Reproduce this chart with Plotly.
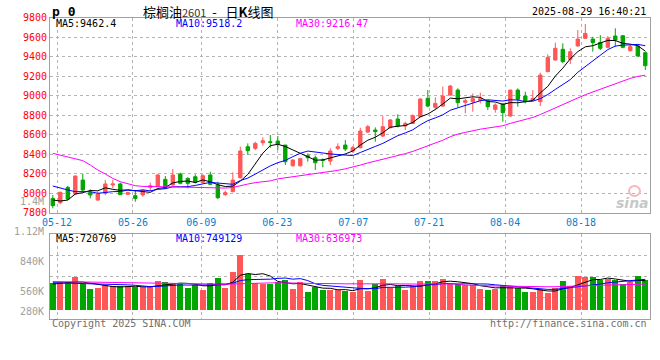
import plotly.graph_objects as go
import pandas as pd

W, H = 660, 360

# ---------------- data ----------------
dates = [d.strftime("%m-%d") for d in pd.bdate_range("2025-05-09", "2025-08-29")
         if d.strftime("%Y-%m-%d") != "2025-06-02"]   # Dragon Boat holiday

opens = [7948, 7904, 8061, 7993, 8136, 8007, 7931, 8000, 8085, 8096,
         7990, 7976, 7983, 8061, 8068, 8143, 8085, 8198, 8153, 8170,
         8112, 8188, 8085, 7986, 8017, 8160, 8478, 8461, 8519, 8529,
         8536, 8495, 8283, 8283, 8386, 8365, 8341, 8331, 8461, 8495,
         8434, 8468, 8628, 8649, 8587, 8673, 8762, 8690, 8717, 8786,
         8974, 8882, 8895, 9008, 9059, 8933, 8940, 8953, 8950, 8861,
         8916, 8793, 9059, 8998, 8957, 8940, 9248, 9367, 9477, 9374,
         9511, 9589, 9582, 9548, 9497, 9613, 9616, 9463, 9511, 9442]
highs = [7982, 8017, 8075, 8184, 8198, 8041, 8017, 8136, 8136, 8109,
         8017, 8034, 8041, 8109, 8198, 8177, 8249, 8211, 8164, 8195,
         8195, 8222, 8119, 8027, 8215, 8478, 8512, 8529, 8574, 8598,
         8588, 8495, 8350, 8365, 8410, 8386, 8358, 8461, 8512, 8546,
         8485, 8673, 8700, 8676, 8793, 8762, 8810, 8735, 8810, 8975,
         9059, 8984, 9094, 9111, 9077, 8967, 9025, 9032, 8957, 8923,
         8923, 9059, 9077, 9042, 9059, 9237, 9425, 9545, 9538, 9487,
         9675, 9736, 9606, 9623, 9613, 9692, 9623, 9528, 9528, 9453]
lows = [7846, 7887, 7931, 7982, 8017, 7948, 7924, 7982, 8051, 7982,
        7982, 7914, 7965, 8027, 8068, 8044, 8078, 8092, 8051, 8100,
        8100, 8085, 7941, 7975, 8010, 8153, 8393, 8444, 8488, 8468,
        8444, 8290, 8273, 8273, 8324, 8239, 8266, 8290, 8444, 8434,
        8417, 8461, 8620, 8529, 8581, 8666, 8676, 8649, 8710, 8780,
        8882, 8854, 8888, 9000, 8882, 8820, 8837, 8923, 8854, 8827,
        8735, 8786, 8888, 8923, 8950, 8895, 9241, 9360, 9333, 9326,
        9504, 9582, 9453, 9470, 9487, 9504, 9487, 9453, 9401, 9265]
closes = [7873, 8010, 7941, 8177, 8034, 7983, 7993, 8096, 8096, 7986,
          8007, 7948, 8030, 8078, 8188, 8051, 8188, 8102, 8102, 8113,
          8181, 8092, 7955, 8007, 8136, 8434, 8437, 8512, 8539, 8522,
          8505, 8324, 8341, 8355, 8365, 8314, 8338, 8434, 8478, 8454,
          8468, 8639, 8683, 8632, 8683, 8752, 8690, 8717, 8796, 8967,
          8895, 8922, 8998, 9100, 8930, 8950, 8970, 8970, 8888, 8906,
          8827, 9059, 8964, 8940, 8974, 9213, 9394, 9487, 9350, 9452,
          9582, 9640, 9545, 9487, 9589, 9572, 9497, 9504, 9408, 9309]
volumes = [657, 673, 673, 793, 633, 521, 545, 617, 577, 593,
           577, 569, 553, 577, 713, 689, 665, 665, 545, 617,
           497, 665, 785, 545, 921, 1337, 873, 665, 641, 641,
           689, 737, 521, 673, 449, 569, 497, 497, 497, 473,
           441, 737, 473, 641, 761, 537, 593, 497, 585, 713,
           713, 713, 761, 641, 641, 601, 601, 521, 497, 521,
           617, 593, 537, 441, 441, 521, 425, 537, 713, 593,
           833, 793, 793, 737, 761, 721, 641, 673, 833, 737]  # thousand lots

# moving-average values before enough in-window history exists
ma5_head = [7931, 7921, 7931, 7993]
ma10_head = [8075, 8051, 8034, 8017, 8017, 8017, 8000, 8010, 8017]
ma30_head = [8410, 8393, 8376, 8358, 8335, 8290, 8239, 8198, 8153, 8119,
             8095, 8078, 8071, 8068, 8068, 8066, 8066, 8064, 8062, 8060,
             8058, 8056, 8054, 8054, 8060, 8080, 8095, 8110, 8122]
vma5_head = [640, 655, 665, 690]
vma10_head = [672, 668, 665, 662, 660, 655, 650, 645, 640]
vma30_head = [700, 697, 694, 690, 686, 682, 678, 674, 670, 666,
              662, 658, 655, 652, 650, 648, 646, 644, 642, 640,
              638, 636, 636, 636, 640, 648, 655, 660, 664]

price_legend = ["MA5:9462.4", "MA10:9518.2", "MA30:9216.47"]
vol_legend = ["MA5:720769", "MA10:749129", "MA30:636973"]
tick_dates = ["05-12", "05-26", "06-09", "06-23", "07-07", "07-21", "08-04", "08-18"]
price_ticks = [7800, 8000, 8200, 8400, 8600, 8800, 9000, 9200, 9400, 9600, 9800]
vol_tick_labels = ["1.12M", "840K", "560K", "280K"]

# ---------------- helpers ----------------
def moving_avg(vals, n, head):
    out = []
    for i in range(len(vals)):
        if i < n - 1:
            out.append(head[i])
        else:
            out.append(sum(vals[i - n + 1:i + 1]) / n)
    return out

def px(x):
    return x / W

def py(y):
    return 1 - y / H

RED, GREEN = "#ff5757", "#00a600"
MONO = "DejaVu Sans Mono"
GRID = "#b4b4b4"
BORDER = "#a0a0a0"
MA_COLORS = ["#000000", "#0000ff", "#ff00ff"]

idx = list(range(len(dates)))
vols = [v * 1000 for v in volumes]
up = [c >= o for o, c in zip(opens, closes)]

# Sina spaces its date grid slightly wider than its candles
GRID_SCALE, GRID_SHIFT = 1.0126, -0.45
xticks = [dates.index(d) * GRID_SCALE + GRID_SHIFT for d in tick_dates]

# pixel layout
X0, X1 = 50, 650
P_TOP, P_BOT = 17.8, 213.3
V_TOP, V_BOT, V_BASE = 234.3, 318.7, 310.7
VOL_PER_PX = 24000
x_lo = (X0 - 52.8) / 7.5
x_hi = (X1 - 52.8) / 7.5
v_hi = (V_BASE - V_TOP) * VOL_PER_PX
v_lo = -(V_BOT - V_BASE) * VOL_PER_PX

fig = go.Figure()

fig.add_trace(go.Candlestick(
    x=idx, open=opens, high=highs, low=lows, close=closes,
    increasing=dict(line=dict(color=RED, width=1), fillcolor=RED),
    decreasing=dict(line=dict(color=GREEN, width=1), fillcolor=GREEN),
    whiskerwidth=0, xaxis="x", yaxis="y", showlegend=False, hoverinfo="skip"))

for n, head, col in [(5, ma5_head, MA_COLORS[0]), (10, ma10_head, MA_COLORS[1]), (30, ma30_head, MA_COLORS[2])]:
    fig.add_trace(go.Scatter(x=idx, y=moving_avg(closes, n, head), mode="lines",
                             line=dict(color=col, width=1), xaxis="x", yaxis="y",
                             showlegend=False, hoverinfo="skip"))

fig.add_trace(go.Bar(x=idx, y=vols, width=0.76,
                     marker=dict(color=[RED if u else GREEN for u in up], line=dict(width=0)),
                     xaxis="x2", yaxis="y2", showlegend=False, hoverinfo="skip"))

for n, head, col in [(5, vma5_head, MA_COLORS[0]), (10, vma10_head, MA_COLORS[1]), (30, vma30_head, MA_COLORS[2])]:
    fig.add_trace(go.Scatter(x=idx, y=[v * 1000 for v in moving_avg(volumes, n, head)], mode="lines",
                             line=dict(color=col, width=1), xaxis="x2", yaxis="y2",
                             showlegend=False, hoverinfo="skip"))

axis_common = dict(showline=True, mirror=True, linecolor=BORDER, linewidth=1, automargin=False,
                   zeroline=False, showgrid=True, gridcolor=GRID, griddash="dot", gridwidth=1)

fig.update_layout(
    template="none",
    width=W, height=H, margin=dict(l=0, r=0, t=0, b=0, pad=0),
    paper_bgcolor="white", plot_bgcolor="white",
    boxgap=0.36,
    bargap=0, showlegend=False,
    xaxis=dict(domain=[px(X0), px(X1)], range=[x_lo, x_hi], anchor="y",
               tickmode="array", tickvals=xticks, ticktext=tick_dates,
               tickfont=dict(family=MONO, size=10, color="#0a7fd0"),
               rangeslider=dict(visible=False), ticks="", **axis_common),
    yaxis=dict(domain=[py(P_BOT), py(P_TOP)], range=[7795, 9800], anchor="x",
               tickmode="array", tickvals=price_ticks, ticktext=[str(t) for t in price_ticks],
               tickfont=dict(family=MONO, size=10, color="#ff0000"), ticks="", **axis_common),
    xaxis2=dict(domain=[px(X0), px(X1)], range=[x_lo, x_hi], anchor="y2", matches="x",
                tickmode="array", tickvals=xticks, showticklabels=False, ticks="", **axis_common),
    yaxis2=dict(domain=[py(V_BOT), py(V_TOP)], range=[v_lo, v_hi], anchor="x2",
                tickmode="array", tickvals=[v_lo + (v_hi - v_lo) * k / 4 for k in (1, 2, 3)],
                showticklabels=False, ticks="", **axis_common),
)

ann = []
def text(x, y, s, color="#000", size=10, anchor="left", family=MONO, **kw):
    ann.append(dict(x=px(x), y=py(y), xref="paper", yref="paper", text=s, showarrow=False,
                    xanchor=anchor, yanchor="middle", font=dict(family=family, size=size, color=color), **kw))

# header
text(50, 11, "<b>p 0</b>", size=13)
text(141, 11, "棕榈油<span style='font-size:11px;color:#333'>2601</span>  -   日<b>K</b>线图",
     size=13, family="Noto Sans CJK SC")
text(648, 12, "2025-08-29 16:40:21", anchor="right")
# legends
for x, s, c in zip([54, 174, 294], price_legend, MA_COLORS):
    text(x, 24, s, color=c)
for x, s, c in zip([54, 174, 294], vol_legend, MA_COLORS):
    text(x, 238.5, s, color=c)
# odd extra labels drawn by Sina
text(46, 201, "1.4M", color="#a0a0a0", anchor="right")
for y, s in zip([231, 261, 291, 311], vol_tick_labels):
    text(46, y, s, color="#a0a0a0", anchor="right")
# footer
text(50, 323, "Copyright 2025 SINA.COM", color="#707070")
text(649, 323, "http://finance.sina.com.cn", color="#707070", anchor="right")
# watermark
text(651, 203, "<b><i>sina</i></b>", color="#c8c8c8", size=14, family="DejaVu Sans", anchor="right")
fig.update_layout(annotations=ann)
fig.add_shape(type="circle", xref="paper", yref="paper",
              x0=px(629), x1=px(640), y0=py(196), y1=py(186),
              line=dict(color="#f6b8b8", width=2))

fig.write_html("out.html", config={"displayModeBar": False},
               post_script="document.body.style.margin='0';document.body.style.overflow='hidden';")
